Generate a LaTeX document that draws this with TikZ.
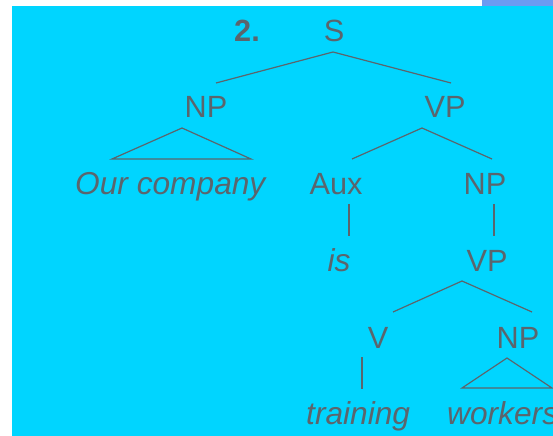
\documentclass[tikz,border=0pt]{standalone}
\usepackage{fontspec}
\setmainfont{Liberation Sans}
\definecolor{panel}{HTML}{00D5FF}
\definecolor{tab}{HTML}{6C9BF2}
\definecolor{ink}{HTML}{5B656D}
\begin{document}
\begin{tikzpicture}[x=1bp,y=-1bp,
  lbl/.style={text=ink, font=\fontsize{30.8}{36}\selectfont, inner sep=0pt, anchor=base},
  word/.style={lbl, font=\fontsize{31.8}{36}\selectfont\itshape},
  branch/.style={draw=ink, line width=1.2bp}]
\useasboundingbox (0,0) rectangle (553,436);
\clip (0,0) rectangle (553,436);
% backdrop
\fill[white] (0,0) rectangle (553,436);
\fill[panel] (12,6) rectangle (553,436);
\fill[tab] (482,0) rectangle (553,6);

% labels
\node[lbl, anchor=base west, font=\fontsize{30.8}{36}\selectfont\bfseries] (num) at (234,42) {2.};
\node[lbl] (s) at (334,42) {S};
\node[lbl] (np1) at (206,118) {NP};
\node[lbl] (vp1) at (445,118) {VP};
\node[word, anchor=base west] (ourco) at (75,195) {Our company};
\node[lbl] (aux) at (336,195) {Aux};
\node[lbl] (np2) at (485,195) {NP};
\node[word] (is) at (339,272) {is};
\node[lbl] (vp2) at (487,272) {VP};
\node[lbl] (v) at (378,348) {V};
\node[lbl] (np3) at (518,348) {NP};
\node[word, anchor=base west] (training) at (306,424) {training};
\node[word, anchor=base west] (workers) at (447,424) {workers};

% branch end points
\coordinate (s-b) at (333,52);
\coordinate (np1-t) at (216,83);
\coordinate (vp1-t) at (451,83);
\coordinate (np1-b) at (182,128);
\coordinate (ourco-l) at (112,159);
\coordinate (ourco-r) at (251,159);
\coordinate (vp1-b) at (422,128);
\coordinate (aux-t) at (352,159);
\coordinate (np2-t) at (492,159);
\coordinate (aux-b) at (349,204);
\coordinate (is-t) at (349,236);
\coordinate (np2-b) at (494,204);
\coordinate (vp2-t) at (494,236);
\coordinate (vp2-b) at (462,281);
\coordinate (v-t) at (393,312);
\coordinate (np3-t) at (532,312);
\coordinate (v-b) at (362,357);
\coordinate (training-t) at (362,389);
\coordinate (np3-b) at (507,358);
\coordinate (workers-l) at (462,388);
\coordinate (workers-r) at (552,388);

% branches
\draw[branch] (np1-t) -- (s-b) -- (vp1-t);
\draw[branch] (np1-b) -- (ourco-l) -- (ourco-r) -- cycle;
\draw[branch] (aux-t) -- (vp1-b) -- (np2-t);
\draw[branch] (aux-b) -- (is-t);
\draw[branch] (np2-b) -- (vp2-t);
\draw[branch] (v-t) -- (vp2-b) -- (np3-t);
\draw[branch] (v-b) -- (training-t);
\draw[branch] (np3-b) -- (workers-l) -- (workers-r) -- cycle;
\end{tikzpicture}
\end{document}
